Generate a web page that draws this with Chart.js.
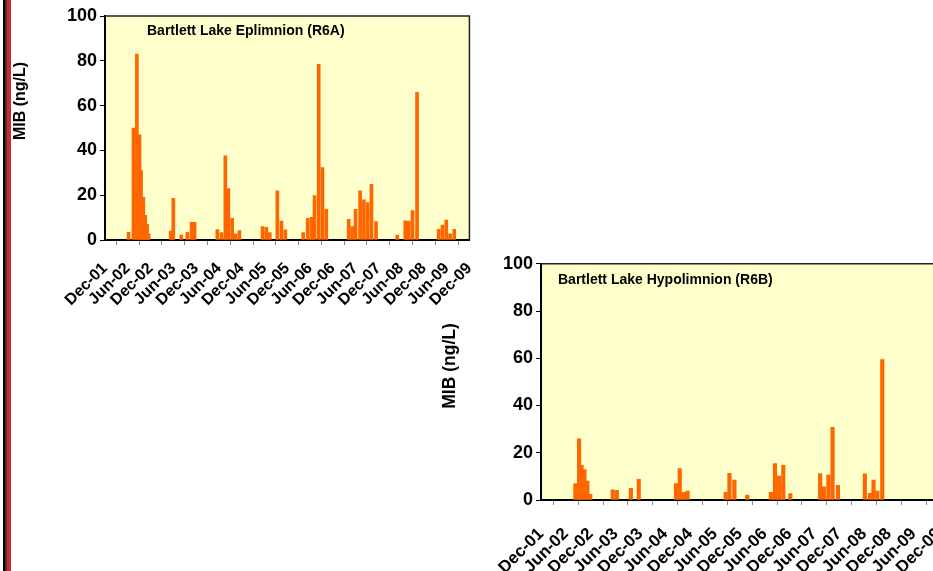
<!DOCTYPE html>
<html>
<head>
<meta charset="utf-8">
<script src="https://cdn.jsdelivr.net/npm/chart.js@4"></script>
<style>
  html, body { margin: 0; padding: 0; width: 933px; height: 571px; overflow: hidden; background: #fff; }
  #stripe { position: absolute; left: 0; top: 0; width: 11px; height: 571px;
    background: linear-gradient(to right, #fff 0, #fff 3px, #000 3px, #000 5px, #4a3a0a 5px, #4a3a0a 7px, #c42a48 7px, #c42a48 11px); }
  #c1 { position: absolute; left: 0; top: 0; }
  #c2 { position: absolute; left: 430px; top: 250px; }
</style>
</head>
<body>
<div id="stripe"></div>
<canvas id="c1" width="497" height="330"></canvas>
<canvas id="c2" width="542" height="321"></canvas>
<script>
// x values are months since Dec-01
var tickLabels = ['Dec-01','Jun-02','Dec-02','Jun-03','Dec-03','Jun-04','Dec-04','Jun-05','Dec-05',
                  'Jun-06','Dec-06','Jun-07','Dec-07','Jun-08','Dec-08','Jun-09','Dec-09'];

var epiTitle = 'Bartlett Lake Eplimnion (R6A)';
var epiMonths = [6.2, 7.5, 8.4, 9.1, 9.5, 10.1, 10.6, 11.1, 11.5,
                 17.3, 18.0, 20.1, 21.7, 22.8, 23.6,
                 29.6, 30.7, 31.7, 32.5, 33.5, 34.4, 35.4,
                 41.5, 42.5, 43.4, 45.4, 46.5, 47.5,
                 52.2, 53.4, 54.4, 55.2, 56.3, 57.3, 58.3,
                 64.2, 65.1, 66.0, 67.2, 68.2, 69.2, 70.2, 71.4,
                 77.0, 79.1, 80.0, 81.0, 82.2,
                 87.9, 88.9, 89.9, 90.9, 92.0];
var epiMIB = [3.4, 50, 83, 47, 31, 19, 11, 7, 2.7,
              4, 18.6, 2.2, 3.4, 7.9, 7.9,
              4.6, 3.3, 37.6, 23, 9.7, 2.7, 4.2,
              6, 5.7, 3.3, 21.9, 8.5, 4.5,
              3.3, 9.7, 10.1, 19.8, 78.4, 32.3, 13.7,
              9.2, 6, 13.7, 22, 17.9, 16.7, 24.9, 8.2,
              2.2, 8.6, 8.5, 13.1, 65.9,
              4.8, 6.7, 8.9, 2.7, 4.8];

var hypoTitle = 'Bartlett Lake Hypolimnion (R6B)';
var hypoMonths = [8.3, 9.2, 9.8, 10.5, 11.2, 11.9,
                  17.3, 18.3, 21.7, 23.6,
                  32.6, 33.5, 34.5, 35.4,
                  44.6, 45.5, 46.7, 49.8,
                  55.5, 56.5, 57.5, 58.5, 60.2,
                  67.4, 68.3, 69.4, 70.4, 71.7,
                  78.2, 79.4, 80.3, 81.2, 82.4];
var hypoMIB = [7.0, 25.9, 14.7, 12.9, 8.0, 2.4,
               4.3, 4.1, 4.9, 8.7,
               6.9, 13.3, 3.2, 3.8,
               3.2, 11.3, 8.4, 2.1,
               3.2, 15.4, 10.1, 14.7, 2.7,
               11.2, 5.6, 10.5, 30.8, 6.2,
               11.1, 2.8, 8.4, 3.8, 59.5];

var FONT = "'Liberation Sans', Arial, sans-serif";

// plot background, frame, inner title, rotated y title
var decor = {
  id: 'decor',
  beforeDraw: function (chart) {
    var a = chart.chartArea, ctx = chart.ctx;
    ctx.save();
    ctx.fillStyle = '#ffffcc';
    ctx.fillRect(a.left, a.top, a.right - a.left, a.bottom - a.top);
    ctx.restore();
  },
  afterDraw: function (chart) {
    var a = chart.chartArea, ctx = chart.ctx, o = chart.options.plugins.decor;
    ctx.save();
    ctx.strokeStyle = '#222';
    ctx.lineWidth = 1.5;
    ctx.beginPath();
    ctx.moveTo(a.left, a.top); ctx.lineTo(a.right, a.top); ctx.lineTo(a.right, a.bottom);
    ctx.stroke();
    ctx.fillStyle = '#000';
    ctx.font = 'bold 14px ' + FONT;
    ctx.textBaseline = 'middle';
    ctx.textAlign = 'left';
    ctx.fillText(o.title, a.left + o.titleDx, a.top + o.titleDy);
    ctx.translate(o.yTitleX, o.yTitleY);
    ctx.rotate(-Math.PI / 2);
    ctx.textAlign = 'center';
    ctx.font = 'bold ' + o.yTitleSize + 'px ' + FONT;
    ctx.fillText('MIB (ng/L)', 0, 0);
    ctx.restore();
  }
};

function makeChart(id, months, values, cfg) {
  var pts = months.map(function (m, i) { return { x: m, y: values[i] }; });
  return new Chart(document.getElementById(id), {
    type: 'bar',
    data: { datasets: [{ data: pts, backgroundColor: '#ff6600', borderWidth: 0, barThickness: cfg.bar }] },
    options: {
      responsive: false,
      animation: false,
      devicePixelRatio: 1,
      layout: { padding: { top: cfg.top, right: 0, left: 0, bottom: 0 } },
      plugins: {
        legend: { display: false },
        tooltip: { enabled: false },
        decor: { title: cfg.title, titleDx: cfg.titleDx, titleDy: cfg.titleDy,
                 yTitleX: cfg.yTitleX, yTitleY: cfg.yTitleY, yTitleSize: cfg.yTitleSize }
      },
      scales: {
        x: {
          type: 'linear', min: 0, max: 96, offset: false,
          afterFit: function (s) { s.height = cfg.xh; },
          border: { color: '#000', width: 2 },
          grid: { display: true, drawOnChartArea: false, drawTicks: true, tickLength: 5, color: '#888' },
          ticks: {
            stepSize: 6, autoSkip: false, minRotation: 45, maxRotation: 45, padding: cfg.xPad,
            color: '#000', font: { family: FONT, size: cfg.xFont, weight: 'bold' },
            callback: function (v) { return tickLabels[Math.round(v / 6)]; }
          }
        },
        y: {
          min: 0, max: 100,
          afterFit: function (s) { s.width = cfg.yw; },
          border: { color: '#000', width: 2 },
          grid: { display: true, drawOnChartArea: false, drawTicks: true, tickLength: 5, color: '#000' },
          ticks: { stepSize: 20, padding: 3, color: '#000', font: { family: FONT, size: 18, weight: 'bold' } }
        }
      }
    },
    plugins: [decor]
  });
}

makeChart('c1', epiMonths, epiMIB, {
  top: 16, xh: 90, yw: 105, bar: 3, xFont: 16, xPad: 14,
  title: epiTitle, titleDx: 42, titleDy: 15, yTitleX: 21, yTitleY: 101, yTitleSize: 16
});
makeChart('c2', hypoMonths, hypoMIB, {
  top: 12, xh: 71, yw: 111, bar: 3.5, xFont: 17, xPad: 19,
  title: hypoTitle, titleDx: 17, titleDy: 16, yTitleX: 20, yTitleY: 116, yTitleSize: 17.5
});
</script>
</body>
</html>
